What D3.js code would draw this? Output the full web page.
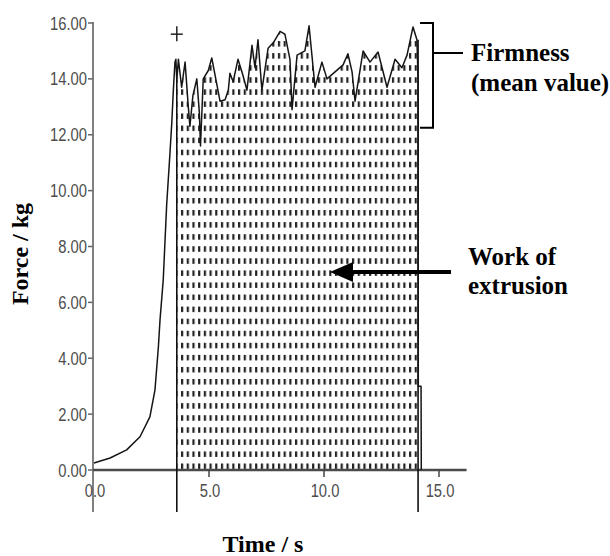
<!DOCTYPE html>
<html><head><meta charset="utf-8">
<script src="https://cdn.jsdelivr.net/npm/d3@7"></script>
<style>html,body{margin:0;padding:0;background:#fff}svg{display:block}</style>
</head><body>
<svg id="c" width="610" height="556"></svg>
<script>
const time = [0, 0.7, 1.42, 2.0, 2.43, 2.65, 2.80, 2.87, 3.01, 3.16, 3.30, 3.38, 3.45, 3.52, 3.56, 3.60, 3.67, 3.81, 3.96, 4.10, 4.17, 4.30, 4.47, 4.58, 4.63, 4.75, 4.97, 5.12, 5.33, 5.48, 5.70, 5.84, 5.91, 6.05, 6.26, 6.45, 6.65, 6.87, 7.0, 7.13, 7.30, 7.57, 7.80, 8.09, 8.30, 8.52, 8.61, 8.83, 9.17, 9.35, 9.48, 9.61, 9.91, 10.13, 10.48, 10.83, 11.04, 11.22, 11.35, 11.70, 12.0, 12.35, 12.74, 13.09, 13.39, 13.61, 13.87, 14.04, 14.09, 14.10, 14.22, 14.23];
const force = [0.25, 0.43, 0.72, 1.19, 1.9, 2.86, 4.41, 5.37, 6.8, 9.5, 11.3, 12.4, 13.6, 14.6, 14.7, 13.96, 14.7, 13.7, 14.6, 13.0, 12.3, 13.4, 14.0, 12.8, 11.6, 14.0, 14.3, 14.75, 13.85, 13.2, 13.25, 13.6, 14.2, 13.9, 14.7, 14.2, 13.6, 15.2, 14.4, 15.4, 13.6, 15.1, 15.3, 15.7, 15.6, 14.7, 12.9, 14.85, 15.0, 15.9, 14.8, 13.7, 14.6, 14.0, 14.25, 14.5, 14.9, 14.25, 13.2, 15.0, 14.6, 14.96, 13.7, 14.7, 14.4, 14.85, 15.86, 15.4, 14.0, 3.0, 3.0, 0];
const yTicks = [0, 2, 4, 6, 8, 10, 12, 14, 16];
const xTicks = [0, 5, 10, 15];
const workStart = 3.6, workEnd = 14.09;
const startMark = [3.6, 15.6];
const firmnessRange = [12.25, 16.0];

const svg = d3.select("#c");
const x = d3.scaleLinear().domain([0, 15]).range([94, 439]);
const y = d3.scaleLinear().domain([0, 16]).range([470, 23]);
const data = time.map((t, i) => ({t, f: force[i]}));

const defs = svg.append("defs");
const pat = defs.append("pattern").attr("id", "hatch").attr("patternUnits", "userSpaceOnUse")
  .attr("x", 181).attr("y", 463.5).attr("width", 5.7).attr("height", 12.07);
pat.append("rect").attr("x", 0).attr("y", 0).attr("width", 2.2).attr("height", 5.5).attr("fill", "#222");

// hatched work area
const work = data.filter(d => d.t >= workStart && d.t <= workEnd);
svg.append("path").datum(work)
  .attr("d", d3.area().x(d => x(d.t)).y0(y(0)).y1(d => y(d.f)))
  .attr("fill", "url(#hatch)");

// y axis line
svg.append("line").attr("x1", x(0) - 1).attr("x2", x(0) - 1).attr("y1", y(16) - 1).attr("y2", 512)
  .attr("stroke", "#808080").attr("stroke-width", 2);
// x axis line
svg.append("line").attr("x1", x(0) - 1).attr("x2", x(16.2)).attr("y1", y(0)).attr("y2", y(0))
  .attr("stroke", "#4a4a4a").attr("stroke-width", 2.5);

// y ticks
const lab = "Liberation Sans, Arial, sans-serif";
yTicks.forEach(v => {
  svg.append("line").attr("x1", x(0) - 6).attr("x2", x(0) - 1).attr("y1", y(v)).attr("y2", y(v))
    .attr("stroke", "#666").attr("stroke-width", 1.5);
  const t = svg.append("text").attr("x", 87).attr("y", y(v) + 6.5).attr("text-anchor", "end")
    .attr("font-family", lab).attr("font-size", 18).attr("fill", "#4d4d4d")
    .text(d3.format(".2f")(v));
  const w = t.node().getComputedTextLength();
  t.attr("textLength", w * 0.82).attr("lengthAdjust", "spacingAndGlyphs");
});
// x ticks
xTicks.forEach(v => {
  if (v > 0) svg.append("line").attr("x1", x(v)).attr("x2", x(v)).attr("y1", y(0)).attr("y2", y(0) + 7)
    .attr("stroke", "#444").attr("stroke-width", 1.5);
  const t = svg.append("text").attr("x", x(v) + 1).attr("y", 497).attr("text-anchor", "middle")
    .attr("font-family", lab).attr("font-size", 18).attr("fill", "#4d4d4d")
    .text(d3.format(".1f")(v));
  const w = t.node().getComputedTextLength();
  t.attr("textLength", w * 0.82).attr("lengthAdjust", "spacingAndGlyphs");
});

// boundary lines of work area
const fAt = tt => work.find(d => d.t === tt).f;
[[workStart, fAt(workStart)], [workEnd, 15.4]].forEach(([tt, ff]) => {
  svg.append("line").attr("x1", x(tt)).attr("x2", x(tt)).attr("y1", y(ff)).attr("y2", 512)
    .attr("stroke", "#111").attr("stroke-width", 1.6);
});

// force curve
svg.append("path").datum(data)
  .attr("d", d3.line().x(d => x(d.t)).y(d => y(d.f)))
  .attr("fill", "none").attr("stroke", "#151515").attr("stroke-width", 1.5).attr("stroke-linejoin", "round");

// start marker "+"
svg.append("line").attr("x1", x(startMark[0]) - 6).attr("x2", x(startMark[0]) + 6)
  .attr("y1", y(startMark[1])).attr("y2", y(startMark[1])).attr("stroke", "#222").attr("stroke-width", 1.5);
svg.append("line").attr("x1", x(startMark[0])).attr("x2", x(startMark[0]))
  .attr("y1", y(startMark[1]) - 8).attr("y2", y(startMark[1]) + 7).attr("stroke", "#222").attr("stroke-width", 1.5);

// firmness bracket
const bx = 433, bx0 = 420;
svg.append("path")
  .attr("d", `M${bx0},${y(firmnessRange[1])}H${bx}V${y(firmnessRange[0])}H${bx0}`)
  .attr("fill", "none").attr("stroke", "#000").attr("stroke-width", 2);
svg.append("line").attr("x1", bx).attr("x2", 463).attr("y1", 53).attr("y2", 53)
  .attr("stroke", "#000").attr("stroke-width", 2);

const serif = "Liberation Serif, Times New Roman, serif";
function btext(tx, ty, s, size, anchor) {
  return svg.append("text").attr("x", tx).attr("y", ty).attr("font-family", serif)
    .attr("font-weight", "bold").attr("font-size", size).attr("fill", "#000")
    .attr("text-anchor", anchor || "start").text(s);
}
btext(471, 61, "Firmness", 25);
btext(471, 91, "(mean value)", 25);
btext(468, 265, "Work of", 25);
btext(468, 294, "extrusion", 25);
btext(263, 552, "Time / s", 24, "middle");
svg.append("text").attr("transform", "translate(28,254) rotate(-90)")
  .attr("text-anchor", "middle").attr("font-family", serif).attr("font-weight", "bold")
  .attr("font-size", 24).text("Force / kg");

// arrow
const ay = 272;
svg.append("line").attr("x1", 451).attr("x2", 348).attr("y1", ay).attr("y2", ay)
  .attr("stroke", "#000").attr("stroke-width", 4);
svg.append("path").attr("d", `M330,${ay}L353,${ay - 10}L353,${ay + 10}Z`).attr("fill", "#000");
</script>
</body></html>
